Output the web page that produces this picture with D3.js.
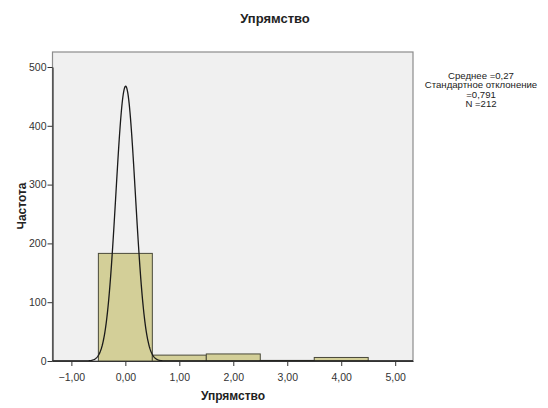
<!DOCTYPE html>
<html><head><meta charset="utf-8">
<script src="https://cdn.jsdelivr.net/npm/d3@7/dist/d3.min.js"></script>
<style>body{margin:0;background:#fff}svg{display:block}text{font-family:"Liberation Sans",Arial,sans-serif}</style>
</head><body><svg id="c" width="548" height="408"></svg>
<script>
const binStarts = [-0.5, 0.5, 1.5, 2.5, 3.5];
const binWidth = 1;
const counts = [183, 10, 12, 1, 6];
const xTicks = [-1, 0, 1, 2, 3, 4, 5];
const yTicks = [0, 100, 200, 300, 400, 500];
const curveMean = 0.005;
const curveSd = 0.181;
const N = 212;
const statLines = ["Среднее =0,27", "Стандартное отклонение", "=0,791", "N =212"];

const svg = d3.select("#c");
const L = 52.5, R = 413, T = 52, B = 361;
const x = d3.scaleLinear().domain([-1.35, 5.33]).range([L, R]);
const y = d3.scaleLinear().domain([0, 500]).range([B, 67]);
const fmt = d => d3.format(".2f")(d).replace(".", ",");

svg.append("rect").attr("x", L).attr("y", T).attr("width", R - L).attr("height", B - T)
  .attr("fill", "#f0f0f0").attr("stroke", "#8c8c8c").attr("stroke-width", 1.2);

svg.append("g").selectAll("rect").data(binStarts).join("rect")
  .attr("x", d => x(d)).attr("width", d => x(d + binWidth) - x(d))
  .attr("y", (d, i) => y(counts[i])).attr("height", (d, i) => y(0) - y(counts[i]))
  .attr("fill", "#d3cf98").attr("stroke", "#4a4a3a").attr("stroke-width", 1);

const pts = d3.range(0, 801).map(i => -1.35 + i * (5.33 + 1.35) / 800);
const dens = v => N * binWidth / (curveSd * Math.sqrt(2 * Math.PI)) * Math.exp(-0.5 * ((v - curveMean) / curveSd) ** 2);
svg.append("path").datum(pts)
  .attr("d", d3.line().x(d => x(d)).y(d => y(dens(d))))
  .attr("fill", "none").attr("stroke", "#1a1a1a").attr("stroke-width", 1.3);

// axes
const xa = svg.append("g").attr("transform", `translate(0,${B})`)
  .call(d3.axisBottom(x).tickValues(xTicks).tickFormat(fmt).tickSize(5).tickSizeOuter(0));
const ya = svg.append("g").attr("transform", `translate(${L},0)`)
  .call(d3.axisLeft(y).tickValues(yTicks).tickSize(5).tickSizeOuter(0));
[xa, ya].forEach(a => {
  a.select(".domain").attr("stroke", "#333").attr("stroke-width", 1.2);
  a.selectAll(".tick line").attr("stroke", "#333");
  a.selectAll(".tick text").attr("font-size", 10.5).attr("fill", "#333").attr("font-family", "Liberation Sans, Arial, sans-serif");
});
xa.selectAll(".tick text").attr("dy", "1.1em");
ya.selectAll(".tick text").attr("x", -6);

svg.append("text").attr("x", 275).attr("y", 23).attr("text-anchor", "middle")
  .attr("font-size", 13).attr("font-weight", "bold").attr("fill", "#222").text("Упрямство");
svg.append("text").attr("x", 233).attr("y", 400).attr("text-anchor", "middle")
  .attr("font-size", 12).attr("font-weight", "bold").attr("fill", "#222").text("Упрямство");
svg.append("text").attr("transform", "translate(26,206) rotate(-90)").attr("text-anchor", "middle")
  .attr("font-size", 12).attr("font-weight", "bold").attr("fill", "#222").text("Частота");

svg.append("g").selectAll("text").data(statLines).join("text")
  .attr("x", 481).attr("y", (d, i) => 78.5 + i * 9.5).attr("text-anchor", "middle")
  .attr("font-size", 9.6).attr("fill", "#222").text(d => d);
</script></body></html>
